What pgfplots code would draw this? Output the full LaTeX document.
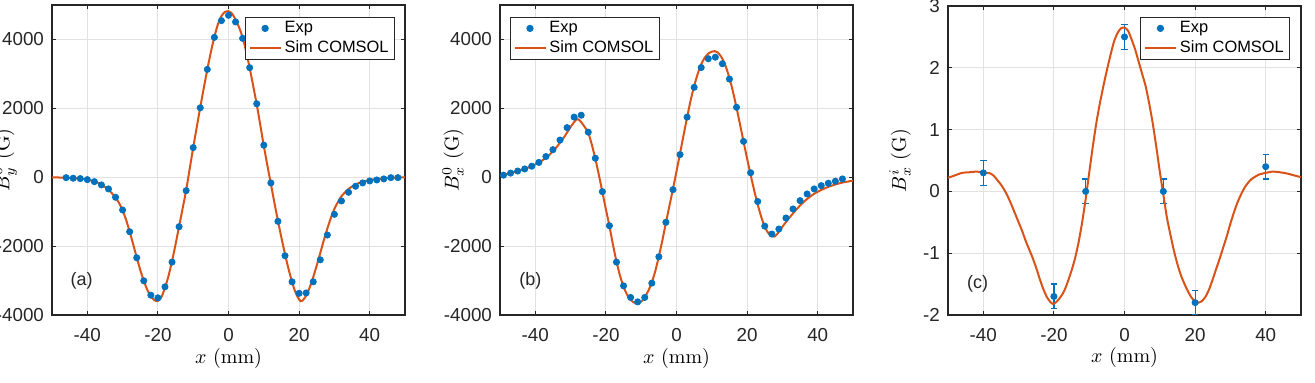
\documentclass[border=0pt]{standalone}
\usepackage{fontspec}
\usepackage{pgfplots}
\pgfplotsset{compat=1.18}

\newfontfamily\arial{Liberation Sans}
\newcommand\tickfont{\arial\fontsize{9.4}{11}\selectfont}
\newcommand\legfont{\arial\fontsize{8.2}{9.8}\selectfont}
\newcommand\labfont{\fontsize{9.5}{11}\selectfont}

\definecolor{mblue}{HTML}{0072BD}
\definecolor{morange}{HTML}{D95319}
\definecolor{axgray}{HTML}{262626}
\definecolor{gridgray}{HTML}{E2E2E2}

\pgfplotsset{
  panel/.style={
    scale only axis, width=176.5pt, height=155pt,
    anchor=south west,
    xmin=-50, xmax=50, xtick={-40,-20,0,20,40},
    tick align=inside, major tick length=2.2pt,
    axis line style={axgray, line width=0.55pt},
    tick style={axgray, line width=0.55pt},
    grid=major, major grid style={gridgray, line width=0.5pt},
    ticklabel style={font=\tickfont, text=axgray},
    /pgf/number format/assume math mode=true,
    /pgf/number format/1000 sep={},
    xticklabel style={yshift=-3pt},
    yticklabel style={xshift=-0.5pt},
    legend cell align=left,
    legend style={font=\legfont, draw=axgray, line width=0.5pt,
      inner xsep=1.5pt, inner ysep=0.7pt,
      nodes={inner xsep=1.5pt, inner ysep=1pt, text height=6pt, text depth=1.8pt}},
    xlabel={$x$ (mm)},
    label style={font=\labfont, text=black!70},
    every axis x label/.style={at={(axis description cs:0.5,-0.139)}, anchor=center},
    every axis y label/.style={at={(axis description cs:-0.133,0.5)}, rotate=90, anchor=center},
  },
  expdots/.style={only marks, mark=*, mark size=1.55pt, color=mblue,
    mark options={draw=mblue, fill=mblue},
    legend image code/.code={\draw[##1, mark repeat=2, mark phase=2]
      plot coordinates {(0pt,0pt) (7.75pt,0pt) (15.5pt,0pt)};}},
  simline/.style={no marks, color=morange, line width=1pt, smooth, tension=0.4,
    legend image code/.code={\draw[##1] (0pt,0pt) -- (15.5pt,0pt);}},
}

% measured field, panel (a)
\pgfplotstableread{
x y
-46 -12
-44 -29
-42 -40
-40 -70
-38 -128
-36 -224
-34 -340
-32 -582
-30 -951
-28 -1582
-26 -2338
-24 -3007
-22 -3424
-20 -3502
-18 -3182
-16 -2464
-14 -1437
-12 -390
-10 861
-8 2016
-6 3131
-4 4061
-2 4547
0 4701
2 4509
4 4032
6 3180
8 2132
10 931
12 -166
14 -1280
16 -2280
18 -3037
20 -3370
22 -3360
24 -3037
26 -2397
28 -1678
30 -1077
32 -689
34 -437
36 -262
38 -166
40 -108
42 -79
44 -49
46 -12
48 -12
}\expA

% COMSOL field, panel (a)
\pgfplotstableread{
x y
-50 -3
-48 -8
-46 -15
-44 -28
-42 -45
-40 -72
-38 -120
-36 -215
-34 -360
-32 -590
-31 -750
-30 -960
-29 -1240
-28 -1580
-27 -1950
-26 -2330
-25 -2690
-24 -3010
-23 -3270
-22 -3460
-21 -3570
-20.4 -3600
-20 -3590
-19 -3480
-18 -3210
-17 -2870
-16 -2440
-15 -1950
-14 -1430
-13 -910
-12 -380
-11 240
-10 860
-9 1450
-8 2030
-7 2590
-6 3130
-5 3630
-4 4080
-3 4440
-2 4680
-1 4800
0 4820
1 4750
2 4580
3 4350
4 4060
5 3650
6 3170
7 2650
8 2110
9 1520
10 910
11 350
12 -190
13 -740
14 -1260
15 -1760
16 -2230
17 -2660
18 -3040
19 -3350
20 -3550
20.5 -3600
21 -3580
22 -3440
23 -3200
24 -2900
25 -2560
26 -2200
27 -1830
28 -1490
29 -1180
30 -920
31 -720
32 -550
34 -340
36 -210
38 -130
40 -80
42 -50
44 -30
46 -15
48 -7
50 -3
}\simA

% measured field, panel (b)
\pgfplotstableread{
x y
-49 60
-47 120
-45 180
-43 240
-41 320
-39 430
-37 600
-35 800
-33 1080
-31 1440
-29 1745
-27 1800
-25 1309
-23 553
-21 -419
-19 -1408
-17 -2464
-15 -3153
-13 -3491
-11 -3619
-9 -3491
-7 -3075
-5 -2310
-3 -1309
-1 -361
1 657
3 1745
5 2610
7 3185
9 3440
11 3485
13 3296
15 2850
17 2030
19 1040
21 130
23 -705
25 -1420
27 -1650
29 -1504
31 -1184
33 -922
35 -680
37 -486
39 -340
41 -244
43 -175
45 -116
47 -49
}\expB

% COMSOL field, panel (b)
\pgfplotstableread{
x y
-50 50
-48 95
-46 150
-44 210
-42 280
-40 370
-38 490
-36 650
-34 870
-32 1140
-30 1460
-29 1600
-28.2 1690
-27.5 1660
-27 1600
-26 1460
-25 1290
-24 950
-23 540
-22 70
-21 -430
-20 -930
-19 -1420
-18 -1960
-17 -2450
-16 -2860
-15 -3180
-14 -3410
-13 -3560
-12 -3640
-11 -3660
-10 -3610
-9 -3490
-8 -3300
-7 -3060
-6 -2720
-5 -2300
-4 -1830
-3 -1320
-2 -830
-1 -340
0 170
1 690
2 1220
3 1740
4 2230
5 2650
6 3000
7 3280
8 3470
9 3590
10 3645
10.8 3660
11.5 3635
12 3590
13 3440
14 3200
15 2880
16 2480
17 2020
18 1530
19 1030
20 540
21 70
22 -380
23 -790
24 -1150
25 -1440
26 -1620
27 -1710
27.7 -1725
28.5 -1650
29.5 -1510
31 -1300
33 -1050
35 -820
37 -630
39 -480
41 -370
43 -280
45 -210
47 -155
50 -100
}\simB

% COMSOL field, panel (c)
\pgfplotstableread{
x y
-50 0.22
-48 0.26
-46 0.30
-44 0.31
-42 0.32
-40 0.31
-38 0.29
-37 0.25
-36 0.18
-35 0.11
-34 0.02
-33 -0.09
-32 -0.22
-31 -0.36
-30 -0.50
-29 -0.64
-28 -0.80
-27 -0.94
-26 -1.08
-25 -1.24
-24 -1.42
-23 -1.58
-22 -1.71
-21 -1.79
-20.3 -1.82
-19.5 -1.80
-19 -1.77
-18 -1.70
-17 -1.60
-16 -1.45
-15 -1.28
-14 -1.08
-13 -0.82
-12 -0.50
-11 -0.12
-10 0.30
-9 0.72
-8 1.10
-7 1.42
-6 1.70
-5 1.96
-4 2.20
-3 2.42
-2 2.56
-1 2.64
0 2.65
1 2.60
2 2.46
3 2.30
4 2.10
5 1.90
6 1.70
7 1.42
8 1.10
9 0.72
10 0.32
11 -0.05
12 -0.42
13 -0.70
14 -0.96
15 -1.18
16 -1.36
17 -1.50
18 -1.62
19 -1.72
20 -1.78
21 -1.80
22 -1.77
23 -1.70
24 -1.58
25 -1.42
26 -1.25
27 -1.08
28 -0.90
29 -0.72
30 -0.52
31 -0.34
32 -0.18
33 -0.05
34 0.06
35 0.14
36 0.20
38 0.27
40 0.30
42 0.32
44 0.31
46 0.29
48 0.26
50 0.23
}\simC

\begin{document}
\begin{tikzpicture}
\path[use as bounding box] (0,0) rectangle (657.5pt,-191.5pt);
\clip (0,0) rectangle (657.5pt,-191.5pt);

% (a)
\begin{axis}[panel, at={(26pt,-157.5pt)},
  ymin=-4000, ymax=5000, ytick={-4000,-2000,0,2000,4000},
  ylabel={$B_y^0$ (G)},
  legend style={at={(axis description cs:0.9717,0.9623)}, anchor=north east}]
\addplot[expdots] table {\expA};
\addlegendentry{Exp}
\addplot[simline] table {\simA};
\addlegendentry{Sim COMSOL}
\node[font=\arial\fontsize{9}{10}\selectfont, text=axgray] at (axis cs:-41.6,-3000) {(a)};
\end{axis}

% (b)
\begin{axis}[panel, at={(250pt,-157.5pt)},
  ymin=-4000, ymax=5000, ytick={-4000,-2000,0,2000,4000},
  ylabel={$B_x^0$ (G)},
  legend style={at={(axis description cs:0.0283,0.9623)}, anchor=north west}]
\addplot[expdots] table {\expB};
\addlegendentry{Exp}
\addplot[simline] table {\simB};
\addlegendentry{Sim COMSOL}
\node[font=\arial\fontsize{9}{10}\selectfont, text=axgray] at (axis cs:-41.4,-3000) {(b)};
\end{axis}

% (c)
\begin{axis}[panel, at={(474pt,-157.5pt)}, height=154.5pt,
  ymin=-2, ymax=3, ytick={-2,-1,0,1,2,3},
  ylabel={$B_x^i$ (G)},
  every axis y label/.style={at={(axis description cs:-0.136,0.5)}, rotate=90, anchor=center},
  legend style={at={(axis description cs:0.9697,0.9654)}, anchor=north east}]
\addplot[expdots,
  error bars/.cd, y dir=both, y explicit,
  error bar style={mblue, line width=0.6pt},
  error mark options={mblue, mark size=1.6pt, line width=0.6pt, rotate=90}]
  coordinates {(-40,0.3) +- (0,0.2) (-20,-1.7) +- (0,0.2) (-11,0) +- (0,0.2)
               (0,2.5) +- (0,0.2) (11,0) +- (0,0.2) (20,-1.8) +- (0,0.2)
               (40,0.4) +- (0,0.2)};
\addlegendentry{Exp}
\addplot[simline] table {\simC};
\addlegendentry{Sim COMSOL}
\node[font=\arial\fontsize{9}{10}\selectfont, text=axgray] at (axis cs:-41.6,-1.5) {(c)};
\end{axis}
\end{tikzpicture}
\end{document}
